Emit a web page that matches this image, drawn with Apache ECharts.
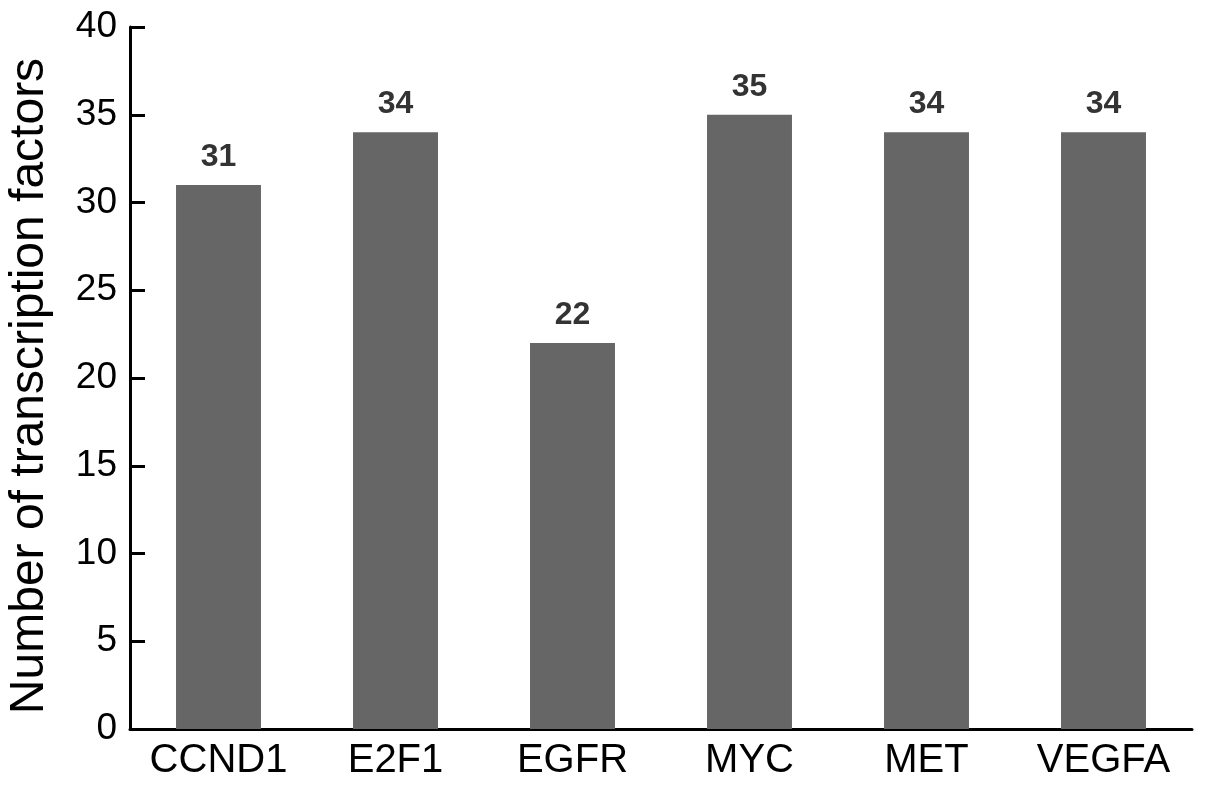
<!DOCTYPE html>
<html>
<head>
<meta charset="utf-8">
<script src="https://cdn.jsdelivr.net/npm/echarts@6/dist/echarts.min.js"></script>
<style>
  html, body { margin: 0; padding: 0; background: #fff; }
  #chart { width: 1205px; height: 790px; }
</style>
</head>
<body>
<div id="chart"></div>
<script>
// gene names and counts
var genes = ['CCND1', 'E2F1', 'EGFR', 'MYC', 'MET', 'VEGFA'];
var tfCounts = [31, 34, 22, 35, 34, 34];
var yTicks = [0, 5, 10, 15, 20, 25, 30, 35, 40];

var font = 'Liberation Sans, Arial, sans-serif';
var chart = echarts.init(document.getElementById('chart'));

chart.setOption({
    animation: false,
    grid: { left: 130, right: 13, top: 27, bottom: 61, outerBoundsMode: 'none' },
    xAxis: {
        type: 'category',
        data: genes,
        axisLine: { lineStyle: { color: '#000', width: 3 } },
        axisTick: { show: false },
        axisLabel: { color: '#000', fontSize: 40, margin: 12, interval: 0, fontFamily: font }
    },
    yAxis: {
        type: 'value',
        min: yTicks[0],
        max: yTicks[yTicks.length - 1],
        interval: 5,
        name: 'Number of transcription factors',
        nameLocation: 'middle',
        nameGap: 76,
        nameTextStyle: { color: '#000', fontSize: 48, fontFamily: font, padding: [0, 16, 0, 0] },
        axisLine: { show: true, lineStyle: { color: '#000', width: 3 } },
        axisTick: { show: true, inside: true, length: 15, lineStyle: { color: '#000', width: 3 } },
        splitLine: { show: false },
        axisLabel: { color: '#000', fontSize: 37, margin: 13, fontFamily: font }
    },
    series: [{
        type: 'bar',
        data: tfCounts,
        barWidth: '48%',
        itemStyle: { color: '#666666' },
        label: {
            show: true,
            position: 'top',
            distance: 12,
            color: '#333',
            fontSize: 32,
            fontWeight: 'bold',
            fontFamily: font
        }
    }]
});
</script>
</body>
</html>
